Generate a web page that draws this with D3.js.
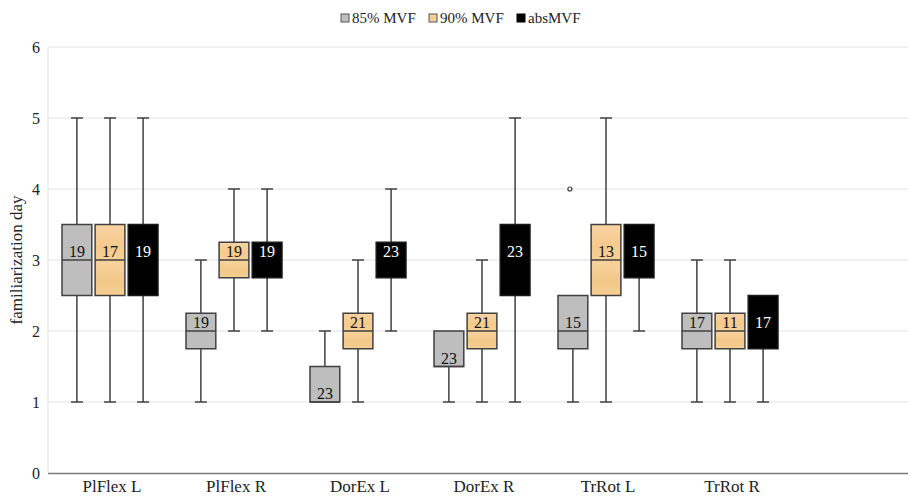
<!DOCTYPE html>
<html>
<head>
<meta charset="utf-8">
<script src="https://cdn.jsdelivr.net/npm/d3@7"></script>
<style>
  html, body { margin: 0; padding: 0; background: #fff; }
</style>
</head>
<body>
<svg id="chart" width="908" height="497" font-family="'Liberation Serif', 'Times New Roman', Times, 'DejaVu Serif', serif"></svg>
<script>
// ---- data ----
const categories = ["PlFlex L", "PlFlex R", "DorEx L", "DorEx R", "TrRot L", "TrRot R"];
const seriesNames = ["85% MVF", "90% MVF", "absMVF"];
const yTicks = [0, 1, 2, 3, 4, 5, 6];
// [min, q1, median, q3, max] per category
const mvf85 = [[1, 2.5, 3, 3.5, 5], [1, 1.75, 2, 2.25, 3], [1, 1, 1, 1.5, 2], [1, 1.5, 1.5, 2, 2], [1, 1.75, 2, 2.5, 2.5], [1, 1.75, 2, 2.25, 3]];
const mvf90 = [[1, 2.5, 3, 3.5, 5], [2, 2.75, 3, 3.25, 4], [1, 1.75, 2, 2.25, 3], [1, 1.75, 2, 2.25, 3], [1, 2.5, 3, 3.5, 5], [1, 1.75, 2, 2.25, 3]];
const absMvf = [[1, 2.5, 3, 3.5, 5], [2, 2.75, 3, 3.25, 4], [2, 2.75, 3, 3.25, 4], [1, 2.5, 3, 3.5, 5], [2, 2.75, 3, 3.5, 3.5], [1, 1.75, 2, 2.5, 2.5]];
const nMvf85 = [19, 19, 23, 23, 15, 17];
const nMvf90 = [17, 19, 21, 21, 13, 11];
const nAbs = [19, 19, 23, 23, 15, 17];
const outliers85 = [[], [], [], [], [4], []];

const seriesData = [mvf85, mvf90, absMvf];
const seriesN = [nMvf85, nMvf90, nAbs];
const seriesOut = [outliers85, [[], [], [], [], [], []], [[], [], [], [], [], []]];
const fills = ["#bebebe", "#f6cd92", "#000000"];
const textColors = ["#111", "#111", "#fff"];

// ---- layout ----
const svg = d3.select("#chart");
const mLeft = 48, mRight = 908, mTop = 47, mBottom = 473;
const bandW = 124;

const x = d3.scaleBand().domain(categories).range([mLeft, mLeft + bandW * categories.length]).padding(0);
const sub = d3.scaleBand().domain(seriesNames).range([-48, 48]).paddingInner(0.1).paddingOuter(0);
const y = d3.scaleLinear().domain([0, 6]).range([mBottom, mTop]);

// defs: subtle texture for orange
const defs = svg.append("defs");
const grad = defs.append("linearGradient").attr("id", "orangeGrad").attr("x1", 0).attr("y1", 0).attr("x2", 0).attr("y2", 1);
[[0, "#f8d3a2"], [0.3, "#f5ca8c"], [0.55, "#f7d29a"], [0.8, "#f3c788"], [1, "#f6cf95"]].forEach(([o, c]) =>
  grad.append("stop").attr("offset", o).attr("stop-color", c));

// gridlines
svg.append("g").selectAll("line").data(yTicks.filter(t => t > 0)).join("line")
  .attr("x1", mLeft).attr("x2", mRight)
  .attr("y1", d => y(d)).attr("y2", d => y(d))
  .attr("stroke", "#e3e3e3").attr("stroke-width", 1);

// left axis line (light)
svg.append("line").attr("x1", mLeft).attr("x2", mLeft).attr("y1", mTop).attr("y2", mBottom)
  .attr("stroke", "#e3e3e3").attr("stroke-width", 1);

// y axis tick labels
svg.append("g").selectAll("text").data(yTicks).join("text")
  .attr("x", mLeft - 8).attr("y", d => y(d)).attr("dy", "0.35em")
  .attr("text-anchor", "end").attr("font-size", 16).attr("fill", "#222")
  .text(d => d);

// y axis title
svg.append("text")
  .attr("transform", `translate(22, 260) rotate(-90)`)
  .attr("text-anchor", "middle").attr("font-size", 17).attr("fill", "#222")
  .text("familiarization day");

// x axis line
svg.append("line").attr("x1", mLeft).attr("x2", mRight).attr("y1", mBottom + 0.5).attr("y2", mBottom + 0.5)
  .attr("stroke", "#7a7a7a").attr("stroke-width", 1.5);

// x labels
svg.append("g").selectAll("text").data(categories).join("text")
  .attr("x", d => x(d) + x.bandwidth() / 2 + 2).attr("y", 492)
  .attr("text-anchor", "middle").attr("font-size", 17).attr("fill", "#222")
  .text(d => d);

// boxes
const stroke = "#404040";
seriesNames.forEach((s, si) => {
  const g = svg.append("g");
  categories.forEach((c, ci) => {
    const [mn, q1, md, q3, mx] = seriesData[si][ci];
    const bx = x(c) + x.bandwidth() / 2 + sub(s);
    const bw = sub.bandwidth();
    const cx = bx + bw / 2;
    const cap = 6;
    if (mx > q3) {
      g.append("line").attr("x1", cx).attr("x2", cx).attr("y1", y(q3)).attr("y2", y(mx)).attr("stroke", stroke).attr("stroke-width", 1.5);
      g.append("line").attr("x1", cx - cap).attr("x2", cx + cap).attr("y1", y(mx)).attr("y2", y(mx)).attr("stroke", stroke).attr("stroke-width", 1.5);
    }
    if (mn < q1) {
      g.append("line").attr("x1", cx).attr("x2", cx).attr("y1", y(q1)).attr("y2", y(mn)).attr("stroke", stroke).attr("stroke-width", 1.5);
      g.append("line").attr("x1", cx - cap).attr("x2", cx + cap).attr("y1", y(mn)).attr("y2", y(mn)).attr("stroke", stroke).attr("stroke-width", 1.5);
    }
    g.append("rect").attr("x", bx).attr("y", y(q3)).attr("width", bw).attr("height", y(q1) - y(q3))
      .attr("fill", si === 1 ? "url(#orangeGrad)" : fills[si])
      .attr("stroke", si === 2 ? "#1a1a1a" : stroke).attr("stroke-width", 1.5);
    if (si !== 2) {
      g.append("line").attr("x1", bx).attr("x2", bx + bw).attr("y1", y(md)).attr("y2", y(md)).attr("stroke", stroke).attr("stroke-width", 1.5);
    }
    g.append("text").attr("x", cx).attr("y", y(md) - 3)
      .attr("text-anchor", "middle").attr("font-size", 16).attr("fill", textColors[si])
      .text(seriesN[si][ci]);
    seriesOut[si][ci].forEach(o => {
      g.append("circle").attr("cx", cx - 3).attr("cy", y(o)).attr("r", 2)
        .attr("fill", "#fff").attr("stroke", stroke).attr("stroke-width", 1.2);
    });
  });
});

// legend
const legendItems = [{name: seriesNames[0], x: 341}, {name: seriesNames[1], x: 429}, {name: seriesNames[2], x: 517}];
const lg = svg.append("g");
legendItems.forEach((it, i) => {
  lg.append("rect").attr("x", it.x).attr("y", 14).attr("width", 8).attr("height", 8)
    .attr("fill", i === 1 ? "#f6cd92" : fills[i]).attr("stroke", i === 2 ? "#000" : "#555").attr("stroke-width", 1);
  lg.append("text").attr("x", it.x + 11).attr("y", 23).attr("font-size", 15).attr("fill", "#222").text(it.name);
});
</script>
</body>
</html>
